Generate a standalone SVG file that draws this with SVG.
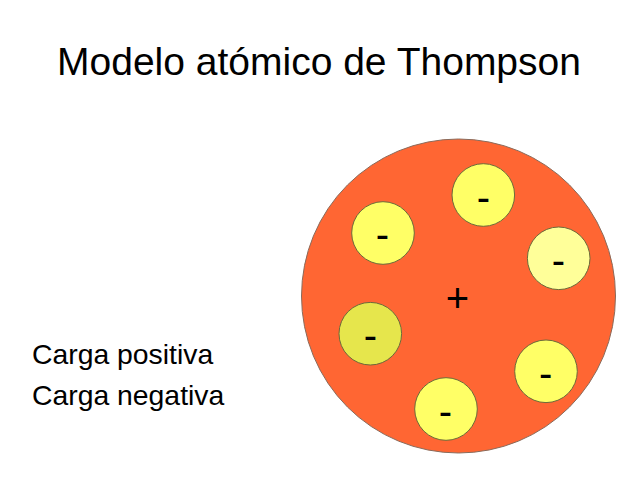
<svg xmlns="http://www.w3.org/2000/svg" width="638" height="480" viewBox="0 0 638 480">
<style>
text{font-family:"Liberation Sans",Arial,sans-serif;fill:#000}
.e{stroke:#6b6b3a;stroke-width:1}
.m{font-size:40px;text-anchor:middle}
.l{font-size:28.35px}
</style>
<rect width="638" height="480" fill="#fff"/>
<text id="title" x="319" y="75" font-size="39" text-anchor="middle">Modelo atómico de Thompson</text>
<text id="label-positive" class="l" x="32" y="364">Carga positiva</text>
<text id="label-negative" class="l" x="32" y="405">Carga negativa</text>
<g id="atom"><circle cx="458.5" cy="296" r="157" fill="#ff6633" stroke="#8a6a5a" stroke-width="1"/><text class="m" x="457.5" y="311.5">+</text></g>
<g id="electron-1"><circle class="e" cx="483.3" cy="195" r="31.3" fill="#ffff66"/><text class="m" x="483.3" y="211">-</text></g>
<g id="electron-2"><circle class="e" cx="383" cy="233" r="31.3" fill="#ffff66"/><text class="m" x="382.3" y="248">-</text></g>
<g id="electron-3"><circle class="e" cx="558.7" cy="258.3" r="31.3" fill="#ffff99"/><text class="m" x="558.3" y="274">-</text></g>
<g id="electron-4"><circle class="e" cx="370.3" cy="333.7" r="31.3" fill="#e6e64c"/><text class="m" x="370.3" y="349">-</text></g>
<g id="electron-5"><circle class="e" cx="546" cy="371.3" r="31.3" fill="#ffff66"/><text class="m" x="545.7" y="387">-</text></g>
<g id="electron-6"><circle class="e" cx="446" cy="409" r="31.3" fill="#ffff66"/><text class="m" x="445.3" y="424.5">-</text></g>
<g id="connectors"></g>
</svg>
